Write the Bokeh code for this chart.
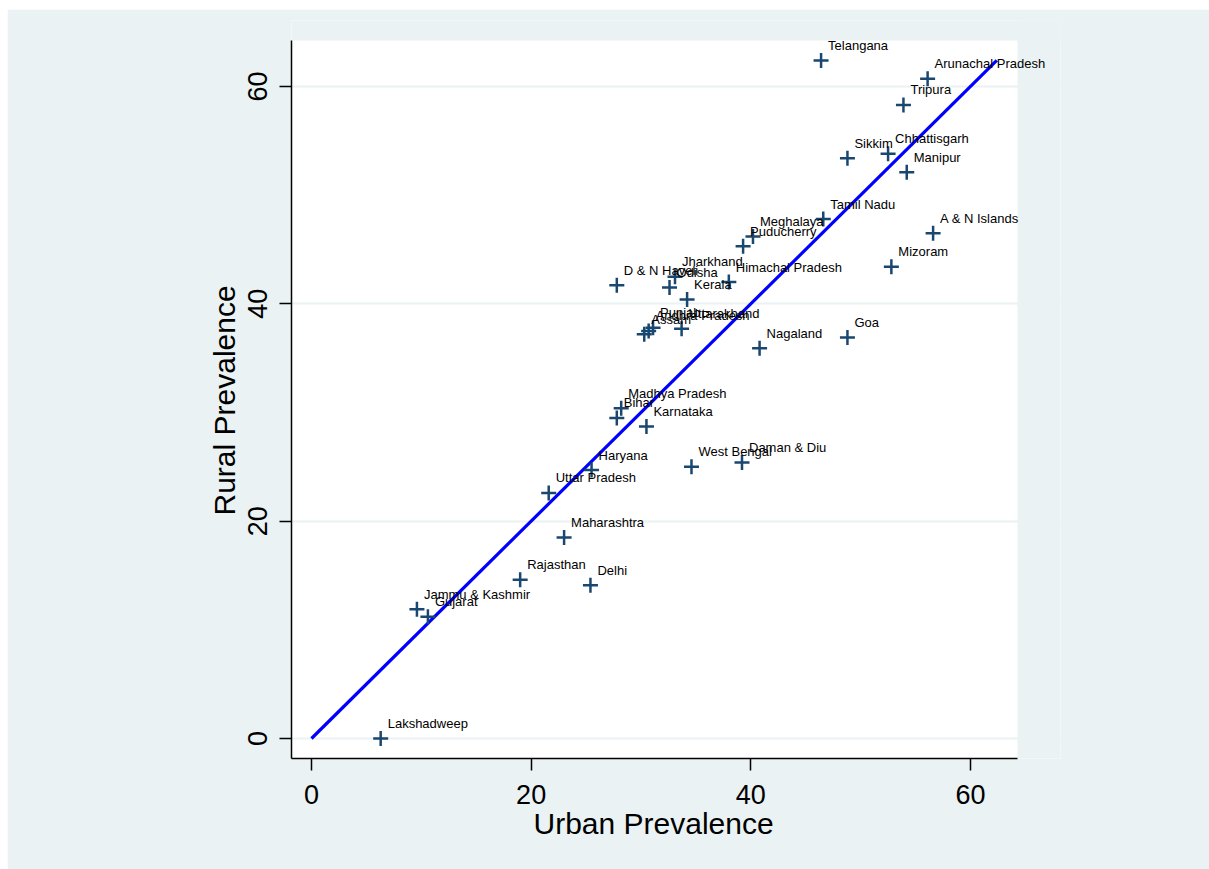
from bokeh.plotting import figure
from bokeh.models import ColumnDataSource, Range1d, FixedTicker, LabelSet, Title
from bokeh.core.properties import value
from bokeh.embed import file_html
from bokeh.resources import INLINE

states = ["Telangana", "Arunachal Pradesh", "Tripura", "Sikkim", "Chhattisgarh", "Manipur",
          "Tamil Nadu", "Meghalaya", "Puducherry", "A & N Islands", "Mizoram", "Himachal Pradesh",
          "Jharkhand", "Odisha", "D & N Haveli", "Kerala", "Punjab", "Uttarakhand",
          "Andhra Pradesh", "Assam", "Nagaland", "Goa", "Madhya Pradesh", "Bihar", "Karnataka",
          "Haryana", "Uttar Pradesh", "West Bengal", "Daman & Diu", "Maharashtra", "Rajasthan",
          "Delhi", "Jammu & Kashmir", "Gujarat", "Lakshadweep"]
urban = [46.4, 56.1, 53.9, 48.8, 52.5, 54.2,
         46.6, 40.2, 39.3, 56.6, 52.8, 38.0,
         33.1, 32.6, 27.8, 34.2, 31.1, 33.7,
         30.7, 30.3, 40.8, 48.8, 28.2, 27.8, 30.5,
         25.5, 21.6, 34.6, 39.2, 23.0, 19.0,
         25.4, 9.6, 10.6, 6.3]
rural = [62.4, 60.7, 58.3, 53.4, 53.8, 52.1,
         47.8, 46.2, 45.3, 46.5, 43.4, 42.0,
         42.5, 41.5, 41.7, 40.4, 37.8, 37.7,
         37.5, 37.2, 35.9, 36.9, 30.4, 29.5, 28.7,
         24.7, 22.6, 25.0, 25.4, 18.5, 14.6,
         14.1, 11.9, 11.2, 0.0]
ticks = [0, 20, 40, 60]
x_title = "Urban Prevalence"
y_title = "Rural Prevalence"

# visible plot-region limits (the drawable frame is larger so labels are not clipped)
X0, X1 = -1.82, 64.28
Y0, Y1 = -1.84, 64.23
XF, YF = 68.2, 66.07
BG = "#EAF2F3"
FONT = "Liberation Sans"

W, H = 1202, 860
p = figure(width=W, height=H, output_backend="svg", toolbar_location=None,
           x_range=Range1d(X0, XF), y_range=Range1d(Y0, YF),
           min_border_left=284, min_border_right=149, min_border_top=11, min_border_bottom=111)
p.margin = (9, 0, 0, 7)
p.background_fill_color = "white"
p.border_fill_color = BG
p.outline_line_color = None

for ax in (p.xaxis[0], p.yaxis[0]):
    ax.ticker = FixedTicker(ticks=ticks)
    ax.minor_tick_line_color = None
    ax.axis_line_color = "black"
    ax.axis_line_width = 1.5
    ax.major_tick_line_color = "black"
    ax.major_tick_line_width = 1.5
    ax.major_tick_out = 12
    ax.major_tick_in = 0
    ax.major_label_text_font = FONT
    ax.major_label_text_font_size = "27px"
    ax.major_label_text_color = "black"

p.xaxis[0].bounds = (X0, X1)
p.yaxis[0].bounds = (Y0, Y1)
p.xaxis[0].major_label_standoff = 14
p.yaxis[0].major_label_standoff = 12
p.yaxis[0].major_label_orientation = "vertical"

# axis titles as Title annotations so that they can be centred on the visible area
xt = Title(text=x_title, align="left", offset=242, standoff=0, vertical_align="top",
           text_font=FONT, text_font_size="30px", text_font_style="normal", text_color="black")
yt = Title(text=y_title, align="left", offset=243, standoff=10, vertical_align="bottom",
           text_font=FONT, text_font_size="30px", text_font_style="normal", text_color="black")
p.add_layout(xt, "below")
p.add_layout(yt, "left")

p.xgrid.grid_line_color = None
p.ygrid.ticker = FixedTicker(ticks=ticks)
p.ygrid.grid_line_color = BG
p.ygrid.grid_line_width = 2

# mask the extra frame area with the outer background colour
p.quad(left=[X1, X0 - 1], right=[XF + 1, XF + 1], bottom=[Y0 - 1, Y1], top=[YF + 1, YF + 1],
       fill_color=BG, line_color=None)

src = ColumnDataSource(dict(x=urban, y=rural, name=states))

m = max(rural)
p.line(x=[0, m], y=[0, m], line_color="#0000FF", line_width=3.2)

p.scatter("x", "y", source=src, marker="cross", size=15, line_color="#1A476F", line_width=2.5)
labels = LabelSet(x="x", y="y", text="name", source=src, x_offset=7, y_offset=15,
                  text_font=value(FONT), text_font_size=value("13px"), text_baseline="middle",
                  text_align="left", text_color="black")
p.add_layout(labels)

open("out.html", "w").write(file_html(p, INLINE))
